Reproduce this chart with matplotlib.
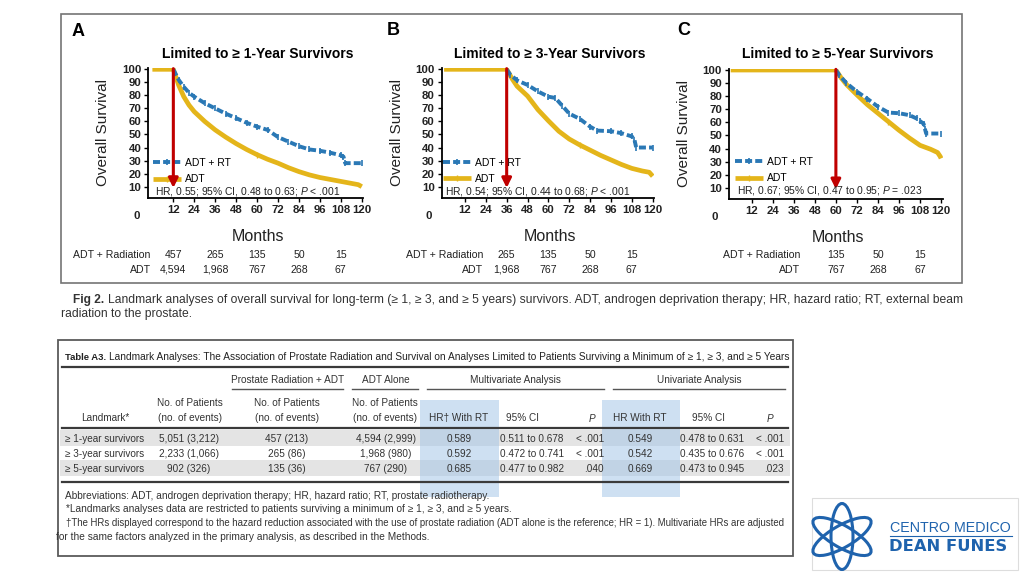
import matplotlib
matplotlib.use('Agg')
import matplotlib.pyplot as plt
from matplotlib.patches import Rectangle, Ellipse

W, H = 1024, 576

plt.rcParams['font.family'] = ['Liberation Sans', 'DejaVu Sans']
plt.rcParams['mathtext.fontset'] = 'custom'
plt.rcParams['mathtext.rm'] = 'Liberation Sans'
plt.rcParams['mathtext.it'] = 'Liberation Sans:italic'

BLUE = '#2a78b5'
GOLD = '#e4b51a'
RED = '#c00000'
LOGO = '#1f63ad'
INK = '#222222'

# ---------------- datos de las curvas ----------------
letters = ['A', 'B', 'C']
titles = ['Limited to ≥ 1-Year Survivors', 'Limited to ≥ 3-Year Survivors',
          'Limited to ≥ 5-Year Survivors']
landmark = [12, 36, 60]

rt_t = [[12, 15, 18, 21, 24, 30, 36, 42, 48, 54, 60, 66, 72, 78, 84, 90, 96, 102, 108, 109.5, 110.5, 120],
        [36, 38, 42, 48, 54, 60, 64, 68, 72, 78, 84, 88, 96, 102, 108, 109.5, 110.5, 120],
        [60, 62, 66, 72, 78, 84, 90, 96, 102, 106, 108, 110, 110.8, 111.5, 120]]
rt_s = [[100, 92, 86.5, 82, 79, 74, 70, 66, 62.5, 59, 56, 53.5, 48, 44.5, 41, 38.5, 37.5, 36, 34, 33, 28, 28],
        [100, 96, 91.5, 88, 83, 79, 78, 72, 66, 62, 56, 53, 52.5, 51, 48.5, 46, 40, 40],
        [100, 96, 90, 83.5, 78, 72, 67.5, 67, 65.5, 63, 61, 59, 55, 51.5, 51.5]]

adt_t = [[0, 12, 15, 18, 21, 24, 30, 36, 42, 48, 54, 60, 66, 72, 78, 84, 90, 96, 102, 108, 114, 118, 120],
         [0, 36, 39, 42, 48, 54, 60, 66, 72, 78, 84, 90, 96, 102, 108, 114, 118, 120],
         [0, 60, 63, 66, 72, 78, 84, 90, 96, 102, 108, 114, 118, 119.5, 120]]
adt_s = [[100, 100, 88, 79, 72.5, 67.5, 60, 53.5, 48, 43, 38.5, 34.5, 31, 28, 24.5, 21.5, 19, 17, 15.5, 14, 12.5, 11.5, 10],
         [100, 100, 93, 87, 79.5, 69, 60.5, 52.5, 46.5, 42, 38, 34, 30.5, 27, 24, 22, 21, 18],
         [100, 100, 94, 89, 81, 73.5, 67, 60.5, 54, 48, 42.5, 39.5, 37, 34, 32.5]]

hr_text = [r'HR, 0.55; 95% CI, 0.48 to 0.63; $P$ < .001',
           r'HR, 0.54; 95% CI, 0.44 to 0.68; $P$ < .001',
           r'HR, 0.67; 95% CI, 0.47 to 0.95; $P$ = .023']

risk_t = [[12, 36, 60, 84, 108], [36, 60, 84, 108], [60, 84, 108]]
risk_rt = [['457', '265', '135', '50', '15'], ['265', '135', '50', '15'], ['135', '50', '15']]
risk_adt = [['4,594', '1,968', '767', '268', '67'], ['1,968', '767', '268', '67'], ['767', '268', '67']]
risk_lab_x = [-1, 22.6, 39.5]

xticks = [12, 24, 36, 48, 60, 72, 84, 96, 108, 120]
yticks = [10, 20, 30, 40, 50, 60, 70, 80, 90, 100]

# cajas de los ejes en pixeles (izq, arriba, der, abajo) y limites x
boxes = [(148.3, 68, 363, 197.7), (441.7, 68, 654, 197.7), (729, 68.7, 943, 199)]
xlims = [(-2.35, 120.7), (-1.38, 120.75), (-0.97, 121.1)]

# ---------------- datos de la tabla ----------------
row_lab = ['≥ 1-year survivors', '≥ 3-year survivors', '≥ 5-year survivors']
tot_pat = ['5,051 (3,212)', '2,233 (1,066)', '902 (326)']
rt_pat = ['457 (213)', '265 (86)', '135 (36)']
adt_pat = ['4,594 (2,999)', '1,968 (980)', '767 (290)']
mv_hr = ['0.589', '0.592', '0.685']
mv_ci = ['0.511 to 0.678', '0.472 to 0.741', '0.477 to 0.982']
mv_p = ['< .001', '< .001', '.040']
uv_hr = ['0.549', '0.542', '0.669']
uv_ci = ['0.478 to 0.631', '0.435 to 0.676', '0.473 to 0.945']
uv_p = ['< .001', '< .001', '.023']


def rect(l, t, r, b):
    return [l / W, 1 - b / H, (r - l) / W, (b - t) / H]


fig = plt.figure(figsize=(10.24, 5.76), dpi=100)
fig.patch.set_facecolor('white')

cv = fig.add_axes([0, 0, 1, 1])
cv.set_xlim(0, W)
cv.set_ylim(H, 0)
cv.axis('off')
renderer = fig.canvas.get_renderer()


def after(txt, gap):
    # x (en pixeles del lienzo) justo a la derecha de un texto ya dibujado
    bb = txt.get_window_extent(renderer=renderer)
    return cv.transData.inverted().transform((bb.x1, bb.y0))[0] + gap


# marco de la figura
cv.add_patch(Rectangle((61, 14), 901, 269, fill=False, ec='#747474', lw=1.2))

for i in range(3):
    l, t, r, b = boxes[i]
    ax = fig.add_axes(rect(l, t, r, b))
    ax.set_facecolor('none')
    ax.set_xlim(*xlims[i])
    ax.set_ylim(1.5, 101)
    for sp in ['top', 'right']:
        ax.spines[sp].set_visible(False)
    for sp in ['left', 'bottom']:
        ax.spines[sp].set_linewidth(1.3)
    ax.set_xticks(xticks)
    ax.set_yticks(yticks)
    ax.tick_params(length=3, width=1, pad=2)
    for lab in ax.get_xticklabels() + ax.get_yticklabels():
        lab.set_fontsize(8.2)
        lab.set_fontweight('bold')
        lab.set_color(INK)
    hgt = b - t
    wid = r - l

    ax.plot(adt_t[i], adt_s[i], color=GOLD, lw=3.4, solid_capstyle='butt',
            marker='|', ms=4, mew=1, markevery=[len(adt_t[i]) // 2], label='ADT', zorder=3)
    ax.plot(rt_t[i], rt_s[i], color=BLUE, lw=2.8, ls=(0, (1.8, 0.8)),
            marker='|', ms=4, mew=1.2, label='ADT + RT', zorder=4)
    h, lb = ax.get_legend_handles_labels()
    leg_y = [0.307, 0.309, 0.323][i]
    leg_x = [0.031, 0.016, 0.037][i]
    ax.legend(h[::-1], lb[::-1], loc='upper left', bbox_to_anchor=(leg_x - 0.01, leg_y),
              frameon=False, fontsize=7.5, handlelength=2.7, handletextpad=0.4,
              labelspacing=0.62, borderaxespad=0, borderpad=0, numpoints=1)

    ax.annotate('', xy=(landmark[i], 9), xytext=(landmark[i], 100.5),
                arrowprops=dict(arrowstyle='-|>', color=RED, lw=2.2,
                                mutation_scale=14, shrinkA=0, shrinkB=0), zorder=6)

    ax.text(leg_x, [0.064, 0.064, 0.079][i], hr_text[i], transform=ax.transAxes,
            fontsize=7.4, va='center_baseline', ha='left', color=INK, zorder=7)

    ax.text(0.5 + 2 / wid, 1 + 16 / hgt, titles[i], transform=ax.transAxes,
            ha='center', va='center_baseline', fontsize=10, fontweight='bold')
    ax.text(-45 / wid, 0.5, 'Overall Survival', transform=ax.transAxes, rotation=90,
            ha='center', va='center', fontsize=11, color=INK)
    ax.text(0.5 + 2 / wid, -37 / hgt, 'Months', transform=ax.transAxes,
            ha='center', va='center_baseline', fontsize=11.5, color=INK)

    xt = ax.get_xaxis_transform()
    ax.text(-9, -17 / hgt, '0', transform=xt, ha='center', va='center_baseline',
            fontsize=8.2, fontweight='bold', color=INK)
    y1 = (b - 257.8) / hgt
    y2 = (b - 272.8) / hgt
    ax.text(risk_lab_x[i], y1, 'ADT + Radiation', transform=xt, ha='right',
            va='baseline', fontsize=7.6, color=INK)
    ax.text(risk_lab_x[i], y2, 'ADT', transform=xt, ha='right',
            va='baseline', fontsize=7.6, color=INK)
    for tt, a1, a2 in zip(risk_t[i], risk_rt[i], risk_adt[i]):
        ax.text(tt, y1, a1, transform=xt, ha='center', va='baseline',
                fontsize=7.6, color=INK)
        ax.text(tt, y2, a2, transform=xt, ha='center', va='baseline',
                fontsize=7.6, color=INK)

# letras de panel
for lt, (px, py) in zip(letters, [(78.3, 31.7), (393.3, 30.5), (683.3, 30.5)]):
    cv.text(px, py, lt, ha='center', va='center', fontsize=13, fontweight='bold')

# pie de figura
CAP = '#333333'
f2 = cv.text(73, 298.5, 'Fig 2.', fontsize=8.6, fontweight='bold',
             va='center_baseline', ha='left', color=CAP)
cv.text(after(f2, 4), 298.5, 'Landmark analyses of overall survival for long-term (≥ 1, ≥ 3, and ≥ 5 years) '
        'survivors. ADT, androgen deprivation therapy; HR, hazard ratio; RT, external beam',
        fontsize=8.7, va='center_baseline', ha='left', color=CAP)
cv.text(61, 313, 'radiation to the prostate.', fontsize=8.7,
        va='center_baseline', ha='left', color=CAP)

# ---------------- tabla ----------------
cv.add_patch(Rectangle((58, 339.5), 735, 216, fill=False, ec='#5a5a5a', lw=1.3))
for yb in [430, 460]:
    cv.add_patch(Rectangle((60, yb), 730, 16, fc='#e4e4e4', ec='none'))
for xl, xr in [(419.5, 498.5), (601.5, 680)]:
    cv.add_patch(Rectangle((xl, 399.5), xr - xl, 97.5, fc='#9fc3e6', ec='none', alpha=0.5))

ta = cv.text(65, 356.5, 'Table A3.', fontsize=6.8, fontweight='bold',
             va='center_baseline', ha='left', color=INK)
cv.text(after(ta, 3), 356.5, 'Landmark Analyses: The Association of Prostate Radiation and Survival on '
        'Analyses Limited to Patients Surviving a Minimum of ≥ 1, ≥ 3, and ≥ 5 Years',
        fontsize=7.3, va='center_baseline', ha='left', color=INK)

for yy in [367, 427.5, 481.5]:
    cv.plot([62, 788], [yy, yy], color='#3a3a3a', lw=1.6)
for xl, xr in [(232, 343), (352, 418), (427, 604), (613, 785)]:
    cv.plot([xl, xr], [388.5, 388.5], color='#555555', lw=1.0)

tk = dict(fontsize=7.2, va='center_baseline', color='#333333')
cv.text(287.5, 379, 'Prostate Radiation + ADT', ha='center', **tk)
cv.text(386, 379, 'ADT Alone', ha='center', **tk)
cv.text(515, 379, 'Multivariate Analysis', ha='center', **tk)
cv.text(699, 379, 'Univariate Analysis', ha='center', **tk)
for cx in [190, 287, 385]:
    cv.text(cx, 402.5, 'No. of Patients', ha='center', **tk)
    cv.text(cx, 417, '(no. of events)', ha='center', **tk)
cv.text(105, 417, 'Landmark*', ha='center', **tk)
cv.text(459, 417, 'HR† With RT', ha='center', **tk)
cv.text(523, 417, '95% CI', ha='center', **tk)
cv.text(592, 417, '$P$', ha='center', **tk)
cv.text(640, 417, 'HR With RT', ha='center', **tk)
cv.text(708, 417, '95% CI', ha='center', **tk)
cv.text(770, 417, '$P$', ha='center', **tk)

for k, yy in enumerate([438, 453, 468]):
    cv.text(65, yy, row_lab[k], ha='left', **tk)
    cv.text(189, yy, tot_pat[k], ha='center', **tk)
    cv.text(287, yy, rt_pat[k], ha='center', **tk)
    cv.text(386, yy, adt_pat[k], ha='center', **tk)
    cv.text(459, yy, mv_hr[k], ha='center', **tk)
    cv.text(500, yy, mv_ci[k], ha='left', **tk)
    cv.text(604, yy, mv_p[k], ha='right', **tk)
    cv.text(640, yy, uv_hr[k], ha='center', **tk)
    cv.text(680, yy, uv_ci[k], ha='left', **tk)
    cv.text(784, yy, uv_p[k], ha='right', **tk)

fk = dict(va='center_baseline', ha='left', color='#333333')
cv.text(65, 495, 'Abbreviations: ADT, androgen deprivation therapy; HR, hazard ratio; RT, '
        'prostate radiotherapy.', fontsize=7.3, **fk)
cv.text(66, 508.5, '*Landmarks analyses data are restricted to patients surviving a minimum of '
        '≥ 1, ≥ 3, and ≥ 5 years.', fontsize=7.3, **fk)
cv.text(66.5, 522, '†The HRs displayed correspond to the hazard reduction associated with the use '
        'of prostate radiation (ADT alone is the reference; HR = 1). Multivariate HRs are adjusted',
        fontsize=6.95, **fk)
cv.text(56, 535.5, 'for the same factors analyzed in the primary analysis, as described in the '
        'Methods.', fontsize=7.3, **fk)

# ---------------- logo ----------------
cv.add_patch(Rectangle((812, 498), 206, 72, fc='white', ec='#dddddd', lw=0.8))
for ang in [90, 30, -30]:
    cv.add_patch(Ellipse((842, 536.5), 66, 22, angle=ang, fill=False, ec=LOGO, lw=2.2))
cv.text(890, 527, 'CENTRO MEDICO', fontsize=10.3, color=LOGO, va='center_baseline', ha='left')
cv.plot([890, 1012], [535.5, 535.5], color=LOGO, lw=0.8)
cv.text(889, 545, 'DEAN FUNES', fontsize=11.8, fontweight='bold', family='DejaVu Sans',
        color=LOGO, va='center_baseline', ha='left')

fig.savefig('out.png', dpi=100, facecolor='white')
